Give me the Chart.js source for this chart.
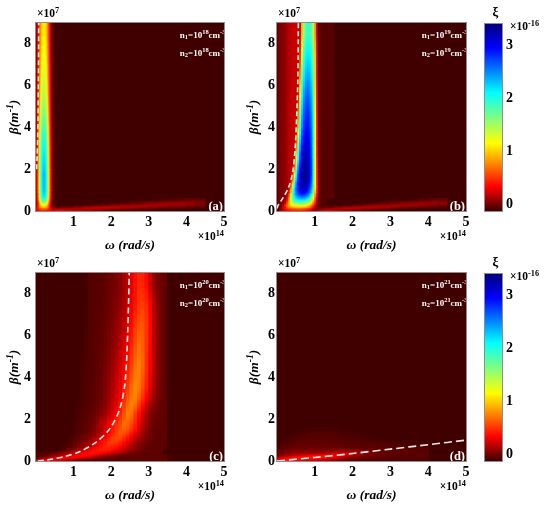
<!DOCTYPE html>
<html>
<head>
<meta charset="utf-8">
<script src="https://cdn.jsdelivr.net/npm/chart.js@4.4.1/dist/chart.umd.min.js"></script>
<style>
html,body{margin:0;padding:0;background:#fff;}
#wrap{position:relative;width:550px;height:507px;overflow:hidden;background:#fff;}
#wrap canvas{position:absolute;left:0;top:0;}
</style>
</head>
<body>
<div id="wrap"></div>
<script>
// ---------------- tick labels / colour scale ----------------
const xTickValues = [1, 2, 3, 4, 5];
const yTickValues = [0, 2, 4, 6, 8];
const cbTickValues = [0, 1, 2, 3];
const cbStops  = [-0.13, 0.1, 0.33, 1.15, 2.1, 2.95, 3.4];
const cbColors = ['#3c0000', '#a00000', '#ff0000', '#ffff00', '#00ffff', '#0000ff', '#00007a'];
const bgXi = -0.12;

// ---------------- panel (a): n1 = n2 = 1e18 ----------------
const omegaA = [0.0125,0.0375,0.0625,0.0875,0.1125,0.1375,0.1625,0.1875,0.2125,0.2375,0.2625,0.2875,0.3125,0.3375,0.3625,0.3875,0.4125,0.4375,0.4625,0.4875];
const betaA = [0,0.1,0.2,0.3,0.45,0.6,0.8,1,1.5,2,3,4,5,6,7,8,9];
const xiA = [
[0.25,0.3,0.33,0.36,0.4,0.43,0.45,0.45,0.45,0.45,0.44,0.42,0.4,0.37,0.33,0.3,0.27,0.25,0.23,0.22],
[0.2,0.3,0.42,0.55,0.66,0.74,0.79,0.8,0.8,0.8,0.79,0.74,0.66,0.55,0.42,0.3,0.2,0.12,0.05,0],
[0.1,0.22,0.4,0.6,0.8,0.95,1.05,1.1,1.1,1.1,1.07,0.98,0.84,0.65,0.45,0.28,0.15,0.05,-0.02,-0.08],
[0.04,0.17,0.37,0.61,0.88,1.14,1.34,1.45,1.5,1.5,1.45,1.34,1.14,0.88,0.61,0.37,0.17,0.04,-0.04,-0.09],
[0.08,0.24,0.49,0.79,1.13,1.46,1.7,1.84,1.9,1.9,1.84,1.7,1.46,1.13,0.79,0.49,0.24,0.08,-0.02,-0.08],
[0.11,0.29,0.56,0.9,1.29,1.65,1.92,2.08,2.15,2.15,2.08,1.92,1.65,1.29,0.9,0.56,0.29,0.11,-0.01,-0.07],
[0.12,0.31,0.59,0.95,1.35,1.73,2.01,2.18,2.25,2.25,2.18,2.01,1.73,1.35,0.95,0.59,0.31,0.12,0,-0.07],
[0.12,0.32,0.61,0.97,1.38,1.77,2.06,2.23,2.3,2.3,2.23,2.06,1.77,1.38,0.97,0.61,0.32,0.12,0,-0.07],
[0.12,0.32,0.61,0.97,1.39,1.78,2.08,2.25,2.32,2.32,2.25,2.08,1.78,1.39,0.97,0.61,0.32,0.12,0,-0.07],
[0.11,0.3,0.58,0.92,1.32,1.69,1.97,2.13,2.2,2.2,2.13,1.97,1.69,1.32,0.92,0.58,0.3,0.11,0,-0.07],
[0.09,0.26,0.52,0.83,1.19,1.53,1.79,1.94,2,2,1.94,1.79,1.53,1.19,0.83,0.52,0.26,0.09,-0.01,-0.08],
[0.06,0.21,0.43,0.7,1.01,1.3,1.52,1.65,1.7,1.7,1.65,1.52,1.3,1.01,0.7,0.43,0.21,0.06,-0.03,-0.08],
[0.04,0.16,0.35,0.59,0.85,1.1,1.29,1.4,1.45,1.45,1.4,1.29,1.1,0.85,0.59,0.35,0.16,0.04,-0.04,-0.09],
[0.02,0.14,0.31,0.52,0.76,0.99,1.16,1.26,1.3,1.3,1.26,1.16,0.99,0.76,0.52,0.31,0.14,0.02,-0.05,-0.09],
[0.01,0.12,0.28,0.47,0.7,0.91,1.07,1.16,1.2,1.2,1.16,1.07,0.91,0.7,0.47,0.28,0.12,0.01,-0.05,-0.09],
[0,0.1,0.25,0.43,0.64,0.83,0.98,1.06,1.1,1.1,1.06,0.98,0.83,0.64,0.43,0.25,0.1,0,-0.06,-0.1]
];
const omegaWedgeA = [0.625,0.875,1.125,1.375,1.625,1.875,2.125,2.375,2.625,2.875,3.125,3.375,3.625,3.875,4.125,4.375];
const betaWedgeA = [0,0.1,0.2,0.3,0.45,0.6];
const xiWedgeA = [
[0.28,0.2,0.15,0.1,0.05,0,-0.04,-0.07,-0.09,-0.1,-0.11,-0.12,-0.12,-0.12,-0.12,-0.12],
[-0.02,0.05,0.12,0.2,0.22,0.21,0.18,0.13,0.1,0.06,0.02,-0.02,-0.05,-0.07,-0.09,-0.11],
[-0.12,-0.12,-0.1,-0.08,-0.02,0.02,0.08,0.12,0.14,0.14,0.13,0.11,0.09,0.06,0.03,0],
[-0.12,-0.12,-0.12,-0.12,-0.12,-0.11,-0.1,-0.08,-0.04,0,0.04,0.07,0.09,0.09,0.07,0.04],
[-0.12,-0.12,-0.12,-0.12,-0.12,-0.12,-0.12,-0.12,-0.12,-0.12,-0.11,-0.1,-0.08,-0.06,-0.04,-0.05]
];
const dashOmegaA = [0.015,0.03,0.045,0.055,0.062,0.068,0.07];
const dashBetaA  = [2.0,2.6,3.5,4.5,6,7.5,9];

// ---------------- panel (b): n1 = n2 = 1e19 ----------------
const omegaB = [0.025,0.075,0.125,0.175,0.225,0.275,0.325,0.375,0.425,0.475,0.525,0.575,0.625,0.675,0.725,0.775,0.825,0.875,0.925,0.975,1.025,1.075,1.125,1.175,1.225,1.275];
const betaB = [0,0.1,0.2,0.35,0.5,0.7,0.9,1.2,1.5,2,2.5,3,3.5,4,5,6,7,8,9];
const xiB = [
[-0.06,0,0.1,0.2,0.28,0.34,0.38,0.41,0.43,0.44,0.45,0.45,0.44,0.43,0.41,0.38,0.34,0.28,0.2,0.1,0.05,0.08,0.12,0.16,0.2,0.22],
[-0.06,0,0.05,0.21,0.36,0.51,0.63,0.69,0.74,0.77,0.79,0.8,0.79,0.78,0.75,0.71,0.64,0.55,0.4,0.24,0.08,-0.03,-0.03,-0.05,-0.06,-0.07],
[-0.06,0,0.02,0.12,0.39,0.65,0.9,1.05,1.16,1.23,1.27,1.29,1.3,1.28,1.25,1.19,1.1,0.97,0.75,0.5,0.23,0.04,-0.03,-0.07,-0.07,-0.07],
[-0.06,0,0.02,0.04,0.12,0.44,0.83,1.22,1.48,1.64,1.75,1.81,1.84,1.84,1.81,1.75,1.64,1.48,1.22,0.83,0.44,0.12,-0.03,-0.07,-0.07,-0.07],
[-0.06,0,0.02,0.04,0.06,0.23,0.67,1.24,1.72,2.01,2.21,2.31,2.37,2.4,2.37,2.3,2.17,1.97,1.62,1.13,0.6,0.16,-0.02,-0.07,-0.07,-0.07],
[-0.06,0,0.02,0.04,0.06,0.1,0.47,1.08,1.74,2.24,2.51,2.7,2.79,2.84,2.84,2.76,2.64,2.41,2.08,1.48,0.83,0.3,0.02,-0.07,-0.07,-0.07],
[-0.06,0,0.02,0.04,0.06,0.1,0.21,0.76,1.55,2.23,2.64,2.9,3.05,3.13,3.14,3.08,2.97,2.76,2.43,1.84,1.09,0.4,0.06,-0.07,-0.07,-0.07],
[-0.06,0,0.02,0.04,0.06,0.1,0.14,0.31,0.97,1.83,2.51,2.89,3.12,3.24,3.3,3.27,3.16,2.94,2.6,1.97,1.16,0.39,0.05,-0.07,-0.07,-0.07],
[-0.06,0,0.02,0.04,0.06,0.1,0.14,0.17,0.38,1.18,2.07,2.73,3.06,3.24,3.34,3.34,3.24,3.06,2.73,2.07,1.18,0.38,0.04,-0.07,-0.07,-0.07],
[-0.06,0,0.02,0.04,0.06,0.1,0.14,0.17,0.19,0.46,1.37,2.31,2.81,3.11,3.25,3.3,3.23,3.06,2.74,2.1,1.2,0.36,0.02,-0.07,-0.07,-0.07],
[-0.06,0,0.02,0.04,0.06,0.1,0.14,0.17,0.19,0.21,0.98,1.91,2.6,2.97,3.13,3.2,3.15,3,2.69,2.09,1.17,0.33,0,-0.07,-0.07,-0.07],
[-0.06,0,0.02,0.04,0.06,0.1,0.14,0.17,0.19,0.2,0.59,1.52,2.36,2.78,3,3.09,3.07,2.94,2.64,2.07,1.14,0.3,-0.01,-0.07,-0.07,-0.07],
[-0.06,0,0.02,0.04,0.06,0.1,0.14,0.17,0.19,0.2,0.33,1.19,2.1,2.61,2.87,2.98,2.98,2.87,2.61,2.1,1.19,0.33,-0.01,-0.07,-0.07,-0.07],
[-0.06,0,0.02,0.04,0.06,0.1,0.14,0.17,0.19,0.2,0.2,0.77,1.72,2.36,2.67,2.82,2.84,2.75,2.51,2.05,1.16,0.3,-0.02,-0.07,-0.07,-0.07],
[-0.06,0,0.02,0.04,0.06,0.1,0.14,0.17,0.19,0.2,0.2,0.35,1.27,2.04,2.43,2.59,2.65,2.57,2.36,1.93,1.08,0.25,-0.03,-0.07,-0.07,-0.07],
[-0.06,0,0.02,0.04,0.06,0.1,0.14,0.17,0.19,0.2,0.2,0.2,0.81,1.67,2.11,2.32,2.4,2.35,2.17,1.77,0.99,0.21,-0.03,-0.07,-0.07,-0.07],
[-0.06,0,0.02,0.04,0.06,0.1,0.14,0.17,0.19,0.2,0.2,0.2,0.49,1.29,1.81,2.05,2.14,2.12,1.99,1.65,0.97,0.21,-0.03,-0.07,-0.07,-0.07],
[-0.06,0,0.02,0.04,0.06,0.1,0.14,0.17,0.19,0.2,0.2,0.2,0.21,0.94,1.54,1.79,1.89,1.88,1.76,1.45,0.79,0.12,-0.03,-0.07,-0.07,-0.07]
];
const omegaWedgeB = [1.375,1.625,1.875,2.125,2.375,2.625,2.875,3.125,3.375,3.625,3.875,4.125,4.375];
const betaWedgeB = [0,0.1,0.2,0.3,0.45,0.6];
const xiWedgeB = [
[0.22,0.15,0.08,0.02,-0.03,-0.07,-0.09,-0.11,-0.12,-0.12,-0.12,-0.12,-0.12],
[0,0.1,0.19,0.19,0.17,0.13,0.08,0.03,-0.02,-0.06,-0.08,-0.1,-0.11],
[-0.12,-0.11,-0.08,-0.02,0.06,0.1,0.13,0.14,0.12,0.09,0.05,0.02,-0.02],
[-0.12,-0.12,-0.12,-0.12,-0.11,-0.09,-0.05,-0.01,0.04,0.07,0.09,0.09,0.07],
[-0.12,-0.12,-0.12,-0.12,-0.12,-0.12,-0.12,-0.12,-0.12,-0.11,-0.07,-0.05,-0.03]
];
const omegaZoneB = [1.35, 1.45];
const betaZoneB = [0.6, 9];
const xiZoneB = [[-0.08, -0.06]];
const dashOmegaB = [0.0,0.035,0.15,0.3,0.41,0.48,0.52,0.55,0.56,0.565];
const dashBetaB  = [0.12,0.29,0.6,1.1,1.8,3.0,4.5,6.2,7.5,9];

// ---------------- panel (c): n1 = n2 = 1e20 ----------------
const omegaC = [0.05,0.15,0.25,0.35,0.45,0.55,0.65,0.75,0.85,0.95,1.05,1.15,1.25,1.35,1.45,1.55,1.65,1.75,1.85,1.95,2.05,2.15,2.25,2.35,2.45,2.55,2.65,2.75,2.85,2.95,3.05,3.15,3.25,3.35,3.45,3.55];
const betaC = [0,0.1,0.2,0.3,0.45,0.6,0.8,1,1.25,1.5,2,2.5,3,4,5,6,7,8,9];
const xiC = [
[0.2,0.3,0.33,0.33,0.3,0.26,0.22,0.17,0.12,0.08,0.04,0,-0.02,-0.04,-0.05,-0.06,-0.06,-0.06,-0.06,-0.06,-0.06,-0.06,-0.06,-0.06,-0.06,-0.06,-0.06,-0.06,-0.06,-0.06,-0.06,-0.06,-0.06,-0.06,-0.06,-0.1],
[-0.05,0,0.06,0.14,0.22,0.28,0.32,0.34,0.34,0.33,0.3,0.26,0.21,0.16,0.11,0.07,0.03,0,-0.02,-0.03,-0.05,-0.05,-0.05,-0.05,-0.05,-0.05,-0.05,-0.05,-0.05,-0.05,-0.05,-0.05,-0.05,-0.05,-0.05,-0.1],
[-0.08,-0.06,-0.04,0,0.05,0.1,0.15,0.2,0.25,0.3,0.33,0.36,0.36,0.34,0.3,0.24,0.18,0.12,0.07,0.03,0,-0.02,-0.05,-0.05,-0.05,-0.05,-0.05,-0.05,-0.05,-0.05,-0.05,-0.05,-0.05,-0.05,-0.05,-0.1],
[-0.1,-0.09,-0.08,-0.06,-0.04,-0.02,0.02,0.06,0.1,0.15,0.2,0.26,0.31,0.35,0.38,0.38,0.37,0.34,0.3,0.25,0.2,0.15,0.1,0.06,0.02,-0.01,-0.03,-0.04,-0.05,-0.05,-0.05,-0.05,-0.06,-0.08,-0.12,-0.12],
[-0.12,-0.12,-0.12,-0.12,-0.12,-0.12,-0.1,-0.08,-0.04,0,0.06,0.12,0.18,0.25,0.31,0.36,0.4,0.42,0.41,0.39,0.35,0.3,0.24,0.18,0.12,0.07,0.03,0,-0.02,-0.05,-0.05,-0.05,-0.05,-0.05,-0.12,-0.12],
[-0.12,-0.12,-0.12,-0.12,-0.12,-0.12,-0.12,-0.1,-0.08,-0.06,-0.03,0.02,0.06,0.11,0.17,0.24,0.31,0.37,0.43,0.46,0.44,0.4,0.34,0.27,0.19,0.12,0.06,0.02,-0.01,-0.03,-0.05,-0.05,-0.05,-0.05,-0.05,-0.12],
[-0.12,-0.12,-0.12,-0.12,-0.12,-0.12,-0.12,-0.12,-0.1,-0.08,-0.05,-0.02,0.02,0.06,0.11,0.18,0.26,0.34,0.42,0.49,0.52,0.5,0.44,0.36,0.28,0.2,0.12,0.06,0.02,-0.02,-0.04,-0.05,-0.05,-0.05,-0.05,-0.12],
[-0.12,-0.12,-0.12,-0.12,-0.12,-0.12,-0.12,-0.12,-0.12,-0.1,-0.08,-0.06,-0.03,0,0.04,0.09,0.16,0.24,0.32,0.41,0.5,0.56,0.55,0.48,0.39,0.29,0.2,0.12,0.06,0.02,-0.02,-0.04,-0.05,-0.05,-0.05,-0.12],
[-0.12,-0.12,-0.12,-0.12,-0.12,-0.12,-0.12,-0.12,-0.12,-0.12,-0.09,-0.08,-0.06,-0.04,-0.01,0.03,0.08,0.15,0.23,0.31,0.41,0.51,0.6,0.61,0.53,0.42,0.31,0.2,0.11,0.04,-0.01,-0.04,-0.05,-0.05,-0.05,-0.12],
[-0.12,-0.12,-0.12,-0.12,-0.12,-0.12,-0.12,-0.12,-0.12,-0.12,-0.1,-0.09,-0.07,-0.05,-0.03,0,0.08,0.15,0.22,0.3,0.38,0.47,0.56,0.67,0.66,0.55,0.42,0.29,0.17,0.08,0.01,-0.03,-0.04,-0.05,-0.05,-0.12],
[-0.12,-0.12,-0.12,-0.12,-0.12,-0.12,-0.12,-0.12,-0.12,-0.12,-0.12,-0.09,-0.08,-0.07,-0.05,-0.03,0,0.04,0.09,0.16,0.24,0.33,0.44,0.58,0.73,0.68,0.53,0.37,0.23,0.12,0.04,-0.01,-0.03,-0.04,-0.05,-0.12],
[-0.12,-0.12,-0.12,-0.12,-0.12,-0.12,-0.12,-0.12,-0.12,-0.12,-0.12,-0.1,-0.09,-0.08,-0.07,-0.05,-0.03,0,0.05,0.11,0.18,0.26,0.36,0.49,0.65,0.76,0.7,0.54,0.38,0.24,0.12,0.04,-0.01,-0.04,-0.05,-0.12],
[-0.12,-0.12,-0.12,-0.12,-0.12,-0.12,-0.12,-0.12,-0.12,-0.12,-0.12,-0.12,-0.09,-0.08,-0.07,-0.06,-0.04,-0.02,0.02,0.07,0.13,0.2,0.29,0.39,0.51,0.66,0.78,0.72,0.57,0.41,0.26,0.13,0.04,-0.02,-0.05,-0.12],
[-0.12,-0.12,-0.12,-0.12,-0.12,-0.12,-0.12,-0.12,-0.12,-0.12,-0.12,-0.12,-0.1,-0.09,-0.08,-0.07,-0.05,-0.03,0,0.04,0.09,0.15,0.22,0.3,0.4,0.53,0.68,0.75,0.65,0.48,0.31,0.16,0.05,-0.02,-0.05,-0.12],
[-0.12,-0.12,-0.12,-0.12,-0.12,-0.12,-0.12,-0.12,-0.12,-0.12,-0.12,-0.12,-0.12,-0.09,-0.08,-0.07,-0.06,-0.04,-0.02,0.01,0.05,0.1,0.16,0.23,0.32,0.44,0.58,0.68,0.64,0.49,0.33,0.17,0.06,-0.02,-0.05,-0.12],
[-0.12,-0.12,-0.12,-0.12,-0.12,-0.12,-0.12,-0.12,-0.12,-0.12,-0.12,-0.12,-0.12,-0.1,-0.08,-0.07,-0.06,-0.05,-0.03,-0.01,0.02,0.06,0.11,0.17,0.25,0.36,0.49,0.59,0.6,0.5,0.34,0.18,0.06,-0.02,-0.05,-0.12],
[-0.12,-0.12,-0.12,-0.12,-0.12,-0.12,-0.12,-0.12,-0.12,-0.12,-0.12,-0.12,-0.12,-0.12,-0.08,-0.07,-0.07,-0.06,-0.04,-0.02,0,0.03,0.07,0.12,0.19,0.28,0.39,0.49,0.52,0.46,0.32,0.16,0.05,-0.02,-0.05,-0.12],
[-0.12,-0.12,-0.12,-0.12,-0.12,-0.12,-0.12,-0.12,-0.12,-0.12,-0.12,-0.12,-0.12,-0.12,-0.08,-0.07,-0.07,-0.06,-0.05,-0.03,-0.01,0.01,0.04,0.1,0.17,0.26,0.37,0.45,0.44,0.35,0.2,0.07,0,-0.02,-0.04,-0.12]
];
const dashOmegaC = [0.05,0.4,0.73,1.17,1.61,1.97,2.23,2.37,2.44,2.48];
const dashBetaC  = [0,0.08,0.2,0.45,0.92,1.56,2.5,3.8,6.2,9];

// ---------------- panel (d): n1 = n2 = 1e21 ----------------
const omegaD = [0.05,0.15,0.25,0.35,0.45,0.55,0.65,0.75,0.85,0.95,1.05,1.15,1.25,1.35,1.45,1.55,1.65,1.75,1.85,1.95,2.05,2.15,2.25,2.35,2.45,2.55,2.65,2.75,2.85,2.95,3.05,3.15,3.25,3.35,3.45,3.55,3.65,3.75,3.85,3.95];
const betaD = [0,0.1,0.2,0.3,0.4,0.55,0.7,0.85,1,1.2,1.4,1.6];
const xiD = [
[0.35,0.4,0.4,0.38,0.35,0.32,0.29,0.26,0.24,0.22,0.2,0.17,0.14,0.11,0.08,0.05,0.03,0.01,-0.01,-0.03,-0.05,-0.06,-0.07,-0.07,-0.08,-0.08,-0.08,-0.08,-0.08,-0.08,-0.09,-0.09,-0.09,-0.09,-0.09,-0.09,-0.09,-0.09,-0.09,-0.09],
[0.15,0.25,0.32,0.37,0.4,0.42,0.43,0.43,0.43,0.42,0.41,0.39,0.36,0.32,0.27,0.22,0.17,0.12,0.08,0.05,0.02,0,-0.02,-0.03,-0.04,-0.05,-0.05,-0.06,-0.06,-0.06,-0.07,-0.07,-0.07,-0.07,-0.07,-0.07,-0.07,-0.07,-0.07,-0.07],
[0.02,0.06,0.1,0.14,0.18,0.22,0.26,0.3,0.33,0.35,0.37,0.38,0.38,0.38,0.36,0.33,0.29,0.24,0.19,0.14,0.1,0.06,0.03,0.01,-0.01,-0.02,-0.03,-0.04,-0.05,-0.05,-0.06,-0.06,-0.06,-0.06,-0.06,-0.06,-0.06,-0.06,-0.06,-0.06],
[-0.02,0,0.03,0.06,0.08,0.1,0.11,0.12,0.13,0.14,0.15,0.16,0.18,0.2,0.22,0.24,0.25,0.25,0.24,0.21,0.17,0.12,0.08,0.04,0.02,0,-0.02,-0.03,-0.04,-0.05,-0.06,-0.06,-0.06,-0.06,-0.06,-0.06,-0.06,-0.06,-0.06,-0.06],
[-0.05,-0.03,-0.01,0,0.02,0.03,0.04,0.04,0.04,0.04,0.04,0.04,0.05,0.05,0.06,0.07,0.08,0.09,0.1,0.1,0.09,0.08,0.06,0.04,0.02,0.01,0,-0.02,-0.03,-0.04,-0.05,-0.05,-0.05,-0.05,-0.05,-0.05,-0.06,-0.06,-0.06,-0.06],
[-0.08,-0.07,-0.05,-0.04,-0.03,-0.03,-0.03,-0.03,-0.03,-0.03,-0.03,-0.03,-0.03,-0.03,-0.03,-0.03,-0.03,-0.04,-0.04,-0.05,-0.05,-0.06,-0.06,-0.07,-0.07,-0.07,-0.07,-0.07,-0.07,-0.07,-0.07,-0.07,-0.07,-0.07,-0.07,-0.07,-0.07,-0.07,-0.08,-0.08],
[-0.11,-0.09,-0.07,-0.06,-0.05,-0.04,-0.04,-0.04,-0.04,-0.04,-0.04,-0.04,-0.04,-0.04,-0.04,-0.05,-0.05,-0.05,-0.06,-0.06,-0.07,-0.07,-0.07,-0.07,-0.07,-0.07,-0.07,-0.07,-0.07,-0.08,-0.08,-0.08,-0.08,-0.09,-0.09,-0.1,-0.1,-0.11,-0.11,-0.11],
[-0.12,-0.11,-0.09,-0.08,-0.07,-0.06,-0.06,-0.05,-0.05,-0.05,-0.05,-0.05,-0.05,-0.06,-0.06,-0.07,-0.07,-0.07,-0.07,-0.07,-0.07,-0.07,-0.08,-0.08,-0.08,-0.08,-0.09,-0.09,-0.1,-0.1,-0.11,-0.11,-0.12,-0.12,-0.12,-0.12,-0.12,-0.12,-0.12,-0.12],
[-0.12,-0.12,-0.11,-0.1,-0.09,-0.08,-0.08,-0.07,-0.07,-0.07,-0.07,-0.07,-0.07,-0.07,-0.07,-0.07,-0.07,-0.08,-0.08,-0.08,-0.09,-0.09,-0.1,-0.1,-0.11,-0.11,-0.12,-0.12,-0.12,-0.12,-0.12,-0.12,-0.12,-0.12,-0.12,-0.12,-0.12,-0.12,-0.12,-0.12],
[-0.12,-0.12,-0.12,-0.12,-0.11,-0.1,-0.09,-0.09,-0.08,-0.08,-0.08,-0.08,-0.08,-0.08,-0.08,-0.08,-0.09,-0.09,-0.1,-0.1,-0.11,-0.11,-0.12,-0.12,-0.12,-0.12,-0.12,-0.12,-0.12,-0.12,-0.12,-0.12,-0.12,-0.12,-0.12,-0.12,-0.12,-0.12,-0.12,-0.12],
[-0.12,-0.12,-0.12,-0.12,-0.12,-0.12,-0.12,-0.11,-0.11,-0.1,-0.1,-0.1,-0.1,-0.1,-0.1,-0.11,-0.11,-0.12,-0.12,-0.12,-0.12,-0.12,-0.12,-0.12,-0.12,-0.12,-0.12,-0.12,-0.12,-0.12,-0.12,-0.12,-0.12,-0.12,-0.12,-0.12,-0.12,-0.12,-0.12,-0.12]
];
const dashOmegaD = [0,1,2,3,4,5];
const dashBetaD  = [0,0.17,0.36,0.57,0.78,1.0];

// ---------------- texts ----------------
const densityExp = ['18', '19', '20', '21'];
const panelTags = ['(a)', '(b)', '(c)', '(d)'];

// =====================================================================
const FONT = "'Liberation Serif','Times New Roman',serif";
function hexRgb(h){return [parseInt(h.slice(1,3),16),parseInt(h.slice(3,5),16),parseInt(h.slice(5,7),16)];}
const cbRgb = cbColors.map(hexRgb);
function xiColor(v){
  const s = cbStops;
  if (v <= s[0]) return cbColors[0];
  if (v >= s[s.length-1]) return cbColors[cbColors.length-1];
  let i = 1; while (v > s[i]) i++;
  const t = (v - s[i-1]) / (s[i] - s[i-1]);
  const a = cbRgb[i-1], b = cbRgb[i];
  return 'rgb(' + Math.round(a[0]+(b[0]-a[0])*t) + ',' + Math.round(a[1]+(b[1]-a[1])*t) + ',' + Math.round(a[2]+(b[2]-a[2])*t) + ')';
}
function drawRich(ctx, parts, x, y, align, size, style){
  const widths = [], sizes = [];
  let total = 0;
  parts.forEach(p => {
    const sz = p[1] === 0 ? size : size * 0.72;
    sizes.push(sz);
    ctx.font = style + ' ' + sz + 'px ' + FONT;
    const w = ctx.measureText(p[0]).width;
    widths.push(w); total += w;
  });
  let cx = align === 'right' ? x - total : align === 'center' ? x - total / 2 : x;
  ctx.textAlign = 'left'; ctx.textBaseline = 'alphabetic';
  parts.forEach((p, i) => {
    ctx.font = style + ' ' + sizes[i] + 'px ' + FONT;
    const dy = p[1] === 1 ? -size * 0.36 : p[1] === -1 ? size * 0.22 : 0;
    ctx.fillText(p[0], cx, y + dy);
    cx += widths[i];
  });
}

const panelDecor = {
  id: 'panelDecor',
  beforeDatasetsDraw(chart){
    const {ctx, chartArea: a} = chart;
    ctx.save(); ctx.fillStyle = xiColor(bgXi);
    ctx.fillRect(a.left, a.top, a.right - a.left, a.bottom - a.top); ctx.restore();
  },
  afterDatasetsDraw(chart, args, o){
    const {ctx, chartArea: a} = chart;
    ctx.save();
    ctx.beginPath(); ctx.rect(a.left, a.top, a.right - a.left, a.bottom - a.top); ctx.clip();
    ctx.fillStyle = '#ffffff';
    drawRich(ctx, [['n',0],['1',-1],['=10',0],[o.exp,1],['cm',0],['-3',1]], a.right + 1.5, a.top + 14.5, 'right', 9, 'bold');
    drawRich(ctx, [['n',0],['2',-1],['=10',0],[o.exp,1],['cm',0],['-3',1]], a.right + 1.5, a.top + 32.5, 'right', 9, 'bold');
    drawRich(ctx, [[o.tag,0]], a.right - 1, a.bottom - 1.5, 'right', 12.5, 'bold');
    ctx.restore();
    ctx.save();
    ctx.strokeStyle = '#8e8e8e'; ctx.lineWidth = 1;
    ctx.strokeRect(a.left - 0.5, a.top - 0.5, a.right - a.left + 1, a.bottom - a.top + 1);
    ctx.fillStyle = '#000';
    drawRich(ctx, [['\u00d710',0],['7',1]], a.left + 1, a.top - 6, 'left', 11.5, 'bold');
    drawRich(ctx, [['\u00d710',0],['14',1]], a.right, a.bottom + 29, 'right', 11.5, 'bold');
    drawRich(ctx, [['\u03c9 (rad/s)',0]], (a.left + a.right) / 2, a.bottom + 38, 'center', 13.5, 'bold italic');
    ctx.translate(a.left - o.yTitleGap, (a.top + a.bottom) / 2);
    ctx.rotate(-Math.PI / 2);
    drawRich(ctx, [['\u03b2(m',0],['-1',1],[')',0]], 0, 0, 'center', 13.5, 'bold italic');
    ctx.restore();
  }
};

const cbDecor = {
  id: 'cbDecor',
  afterDatasetsDraw(chart){
    const {ctx, chartArea: a} = chart;
    ctx.save();
    ctx.strokeStyle = '#8e8e8e'; ctx.lineWidth = 1;
    ctx.strokeRect(a.left - 0.5, a.top - 0.5, a.right - a.left + 1, a.bottom - a.top + 1);
    ctx.fillStyle = '#000';
    drawRich(ctx, [['\u03be',0]], (a.left + a.right) / 2 + 2, a.top - 8.5, 'center', 13, 'bold');
    drawRich(ctx, [['\u00d710',0],['-16',1]], a.right + 8, a.top + 6, 'left', 11.5, 'bold');
    ctx.restore();
  }
};

function heatDataset(omega, beta, xi, geom, order){
  const cells = [];
  xi.forEach((row, r) => row.forEach((v, k) => {
    if (k >= omega.length) return;
    const below = r > 0 ? xi[r - 1][k] : undefined;
    const above = r < xi.length - 1 ? xi[r + 1][k] : undefined;
    cells.push({
      x: omega[k], y: [beta[r], beta[r + 1]], v,
      vb: below === undefined ? v : (v + below) / 2,
      vt: above === undefined ? v : (v + above) / 2
    });
  }));
  const step = omega.length > 1 ? omega[1] - omega[0] : 0.1;
  return {
    type: 'bar', data: cells, order,
    backgroundColor: c => {
      const d = c.raw;
      if (!d) return '#000';
      const ch = c.chart, ys = ch.scales && ch.scales.y;
      if (!ch.chartArea || !ys) return xiColor(d.v);
      const yb = ys.getPixelForValue(d.y[0]), yt = ys.getPixelForValue(d.y[1]);
      if (!isFinite(yb) || !isFinite(yt) || Math.abs(yb - yt) < 0.5) return xiColor(d.v);
      const g = ch.ctx.createLinearGradient(0, yb, 0, yt);
      g.addColorStop(0, xiColor(d.vb));
      g.addColorStop(0.5, xiColor(d.v));
      g.addColorStop(1, xiColor(d.vt));
      return g;
    },
    barThickness: step * (geom.R - geom.L) / 5 + 0.2,
    grouped: false, borderWidth: 0, inflateAmount: 0.4
  };
}

function tickFont(){ return {family: FONT, size: 14, weight: 'bold'}; }

function makeCanvas(){
  const c = document.createElement('canvas');
  c.width = 550; c.height = 507;
  c.style.width = '550px'; c.style.height = '507px';
  document.getElementById('wrap').appendChild(c);
  return c;
}

function makePanel(geom, layers, dashX, dashY, idx, dashPattern){
  const datasets = layers.map((L, i) => heatDataset(L[0], L[1], L[2], geom, layers.length - i));
  datasets.push({
    type: 'line', order: 0,
    data: dashX.map((x, i) => ({x, y: dashY[i]})),
    borderColor: 'rgba(255,255,255,0.92)', borderWidth: 1.6, borderDash: dashPattern,
    pointRadius: 0, tension: 0.3, fill: false
  });
  new Chart(makeCanvas(), {
    type: 'bar',
    data: {datasets},
    options: {
      responsive: false, animation: false, events: [],
      layout: {padding: {left: geom.L - 36, right: 550 - geom.R, top: geom.T, bottom: 507 - geom.B - 39}},
      plugins: {legend: {display: false}, tooltip: {enabled: false},
        panelDecor: {exp: densityExp[idx], tag: panelTags[idx], yTitleGap: geom.yTitleGap}},
      scales: {
        x: {type: 'linear', min: 0, max: 5, offset: false,
            grid: {display: false, drawTicks: false}, border: {display: false},
            ticks: {font: tickFont(), color: '#000', padding: 3, maxRotation: 0, autoSkip: false},
            afterBuildTicks: s => { s.ticks = xTickValues.map(v => ({value: v})); },
            afterFit: s => { s.height = 39; }},
        y: {type: 'linear', min: 0, max: 9,
            grid: {display: false, drawTicks: false}, border: {display: false},
            ticks: {font: tickFont(), color: '#000', padding: geom.yPad, autoSkip: false},
            afterBuildTicks: s => { s.ticks = yTickValues.map(v => ({value: v})); },
            afterFit: s => { s.width = 36; }}
      }
    },
    plugins: [panelDecor]
  });
}

function makeColorbar(geom){
  new Chart(makeCanvas(), {
    type: 'bar',
    data: {datasets: [{
      data: [{x: 0.5, y: [cbStops[0], cbStops[cbStops.length - 1]]}],
      barThickness: geom.R - geom.L, grouped: false, borderWidth: 0, inflateAmount: 0,
      backgroundColor: c => {
        const ch = c.chart; if (!ch.chartArea) return cbColors[0];
        const ys = ch.scales.y;
        const y0 = ys.getPixelForValue(cbStops[0]), y1 = ys.getPixelForValue(cbStops[cbStops.length - 1]);
        const g = ch.ctx.createLinearGradient(0, y0, 0, y1);
        cbStops.forEach((s, i) => g.addColorStop((s - cbStops[0]) / (cbStops[cbStops.length - 1] - cbStops[0]), cbColors[i]));
        return g;
      }
    }]},
    options: {
      responsive: false, animation: false, events: [],
      layout: {padding: {left: geom.L, right: 550 - geom.R - 30, top: geom.T, bottom: 507 - geom.B}},
      plugins: {legend: {display: false}, tooltip: {enabled: false}},
      scales: {
        x: {type: 'linear', min: 0, max: 1, offset: false, display: false},
        y: {type: 'linear', position: 'right', min: cbStops[0], max: cbStops[cbStops.length - 1],
            grid: {display: false, drawTicks: false}, border: {display: false},
            ticks: {font: tickFont(), color: '#000', padding: 4, autoSkip: false},
            afterBuildTicks: s => { s.ticks = cbTickValues.map(v => ({value: v})); },
            afterFit: s => { s.width = 30; }}
      }
    },
    plugins: [cbDecor]
  });
}

const gA = {L: 36, R: 224, T: 23, B: 211, yPad: 5, yTitleGap: 18.5};
const gB = {L: 277, R: 466, T: 23, B: 211, yPad: 2, yTitleGap: 19};
const gC = {L: 36, R: 224, T: 273, B: 461, yPad: 5, yTitleGap: 18.5};
const gD = {L: 277, R: 466, T: 273, B: 461, yPad: 2, yTitleGap: 19};

makePanel(gA, [[omegaWedgeA, betaWedgeA, xiWedgeA], [omegaA, betaA, xiA]], dashOmegaA, dashBetaA, 0, [5, 3]);
makePanel(gB, [[omegaZoneB, betaZoneB, xiZoneB], [omegaWedgeB, betaWedgeB, xiWedgeB], [omegaB, betaB, xiB]], dashOmegaB, dashBetaB, 1, [5, 3]);
makePanel(gC, [[omegaC, betaC, xiC]], dashOmegaC, dashBetaC, 2, [6, 3.5]);
makePanel(gD, [[omegaD, betaD, xiD]], dashOmegaD, dashBetaD, 3, [8, 4]);
makeColorbar({L: 485, R: 502, T: 24, B: 211});
makeColorbar({L: 485, R: 502, T: 274, B: 461});
</script>
</body>
</html>
